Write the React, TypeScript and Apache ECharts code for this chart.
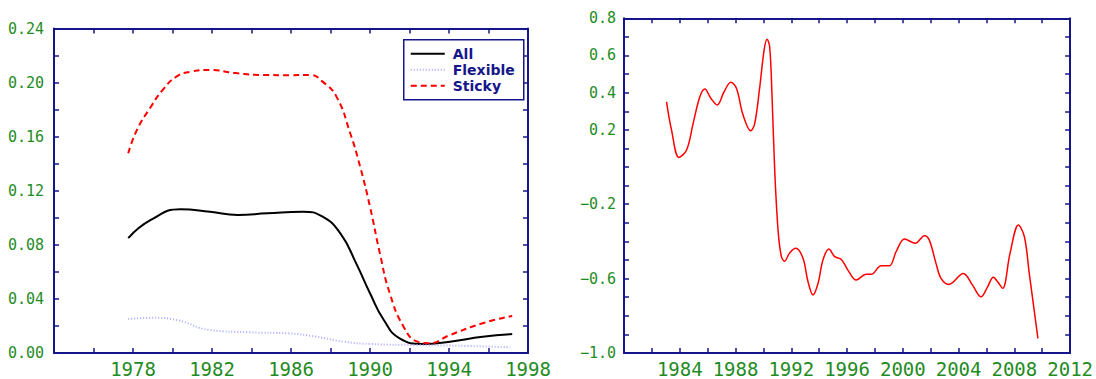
import React, { useEffect, useRef } from "react";
import * as echarts from "echarts";

// ---- data ----
const allPoints: [number, number][] = [
  [1977.76, 0.085], [1978.9, 0.0984], [1980.4, 0.1063], [1981.9, 0.1045],
  [1983.3, 0.1021], [1984.8, 0.1033], [1986.6, 0.1045], [1987.6, 0.1008],
  [1988.5, 0.0885], [1989.3, 0.0663], [1990.0, 0.0442], [1990.7, 0.0244],
  [1991.5, 0.0109], [1992.7, 0.0067], [1994.05, 0.0084], [1995.7, 0.012],
  [1997.2, 0.014],
];
const flexiblePoints: [number, number][] = [
  [1977.76, 0.0251], [1979.0, 0.026], [1980.2, 0.0244], [1981.9, 0.017],
  [1983.9, 0.0153], [1985.9, 0.0145], [1987.3, 0.012], [1988.65, 0.0084],
  [1990.0, 0.0067], [1992.4, 0.0059], [1994.9, 0.0052], [1997.1, 0.0042],
];
const stickyPoints: [number, number][] = [
  [1977.76, 0.1477], [1978.2, 0.165], [1978.9, 0.182], [1979.5, 0.1945],
  [1980.2, 0.2044], [1980.9, 0.208], [1981.9, 0.2093], [1983.2, 0.207],
  [1984.6, 0.2056], [1986.0, 0.2055], [1987.0, 0.2056], [1987.6, 0.2007],
  [1988.3, 0.1896], [1989.0, 0.1625], [1989.5, 0.1378], [1990.0, 0.1082],
  [1990.5, 0.0737], [1991.0, 0.0442], [1991.7, 0.0195], [1992.4, 0.0084],
  [1993.0, 0.0072], [1994.05, 0.0133], [1995.7, 0.022], [1997.2, 0.0274],
];
const gapPoints: [number, number][] = [
  [1983.05, 0.351], [1983.41, 0.199], [1983.94, 0.052], [1984.49, 0.092],
  [1984.96, 0.235], [1985.44, 0.378], [1985.8, 0.42], [1986.23, 0.37],
  [1986.68, 0.334], [1987.18, 0.405], [1987.66, 0.456], [1988.07, 0.423],
  [1988.54, 0.28], [1989.09, 0.195], [1989.38, 0.235], [1989.74, 0.432],
  [1990.05, 0.629], [1990.26, 0.687], [1990.45, 0.647], [1990.62, 0.378],
  [1990.81, -0.016], [1991.05, -0.339], [1991.29, -0.482], [1991.52, -0.506],
  [1991.88, -0.462], [1992.32, -0.437], [1992.84, -0.491], [1993.2, -0.617],
  [1993.56, -0.688], [1993.92, -0.625], [1994.27, -0.5], [1994.7, -0.441],
  [1995.11, -0.482], [1995.59, -0.497], [1996.06, -0.554], [1996.66, -0.608],
  [1997.37, -0.577], [1997.73, -0.577], [1998.45, -0.531], [1999.04, -0.531],
  [1999.52, -0.455], [2000.12, -0.387], [2000.9, -0.41], [2001.55, -0.369],
  [2001.9, -0.393], [2002.38, -0.518], [2002.74, -0.599], [2003.3, -0.631],
  [2004.34, -0.572], [2005.0, -0.635], [2005.61, -0.698], [2006.08, -0.644],
  [2006.49, -0.593], [2006.8, -0.617], [2007.16, -0.652], [2007.69, -0.464],
  [2008.29, -0.312], [2008.72, -0.375], [2009.07, -0.572], [2009.69, -0.921],
];
const legendNames = ["All", "Flexible", "Sticky"];
const rightYLabelTenths = [8, 6, 4, 2, -2, -6, -10];

const NAVY = "#16168a";
const GREEN = "#1f8c1f";
const LABEL_FONT = "'DejaVu Sans Mono', monospace";

const axisLine = { show: true, onZero: false, lineStyle: { color: NAVY, width: 2 } };
const axisTick = { show: true, inside: true, length: 5, lineStyle: { color: NAVY, width: 1.5 } };

function xAxes(gridIndex: number, min: number, max: number, firstLabel: number) {
  return [
    {
      type: "value", gridIndex, position: "bottom", min, max, interval: 2,
      axisLine, axisTick, splitLine: { show: false },
      axisLabel: {
        show: true, color: GREEN, fontFamily: LABEL_FONT, fontSize: 19, margin: 6,
        formatter: (v: number) => (v >= firstLabel && Math.round(v - firstLabel) % 4 === 0 ? String(Math.round(v)) : ""),
      },
    },
    {
      type: "value", gridIndex, position: "top", min, max, interval: 2,
      axisLine, axisTick, splitLine: { show: false }, axisLabel: { show: false },
    },
  ];
}

export default function App() {
  const ref = useRef<HTMLDivElement>(null);
  useEffect(() => {
    document.body.style.margin = "0";
    const chart = echarts.init(ref.current!, null, { renderer: "svg" });
    const option: any = {
      animation: false,
      backgroundColor: "#ffffff",
      grid: [
        { left: 54, top: 28.5, width: 474, height: 324.5 },
        { left: 624, top: 18.3, width: 447.5, height: 334.7 },
      ],
      xAxis: [...xAxes(0, 1974, 1998, 1978), ...xAxes(1, 1980, 2012, 1984)],
      yAxis: [
        {
          type: "value", gridIndex: 0, position: "left", min: 0, max: 0.24, interval: 0.02,
          axisLine, axisTick, splitLine: { show: false },
          axisLabel: {
            color: GREEN, fontFamily: LABEL_FONT, fontSize: 15, margin: 10,
            formatter: (v: number) => (Math.round(v * 100) % 4 === 0 ? v.toFixed(2) : ""),
          },
        },
        {
          type: "value", gridIndex: 0, position: "right", min: 0, max: 0.24, interval: 0.02,
          axisLine, axisTick, splitLine: { show: false }, axisLabel: { show: false },
        },
        {
          type: "value", gridIndex: 1, position: "left", min: -1, max: 0.8, interval: 0.1,
          axisLine, axisTick, splitLine: { show: false },
          axisLabel: {
            color: GREEN, fontFamily: LABEL_FONT, fontSize: 15, margin: 8,
            formatter: (v: number) => {
              const k = Math.round(v * 10);
              if (!rightYLabelTenths.includes(k)) return "";
              return (k < 0 ? "\u2212" : "") + (Math.abs(k) / 10).toFixed(1);
            },
          },
        },
        {
          type: "value", gridIndex: 1, position: "right", min: -1, max: 0.8, interval: 0.1,
          axisLine, axisTick, splitLine: { show: false }, axisLabel: { show: false },
        },
      ],
      series: [
        {
          name: legendNames[0], type: "line", xAxisIndex: 0, yAxisIndex: 0, data: allPoints,
          smooth: 0.5, showSymbol: false, lineStyle: { color: "#000000", width: 2 },
        },
        {
          name: legendNames[1], type: "line", xAxisIndex: 0, yAxisIndex: 0, data: flexiblePoints,
          smooth: 0.5, showSymbol: false, lineStyle: { color: "#aaaaff", width: 2, type: [1, 2] },
        },
        {
          name: legendNames[2], type: "line", xAxisIndex: 0, yAxisIndex: 0, data: stickyPoints,
          smooth: 0.5, showSymbol: false, lineStyle: { color: "#ff0000", width: 2, type: [6, 4] },
        },
        {
          name: "gap", type: "line", xAxisIndex: 2, yAxisIndex: 2, data: gapPoints,
          smooth: 0.35, showSymbol: false, lineStyle: { color: "#ff0000", width: 1.5 },
        },
      ],
      graphic: [
        {
          type: "group", left: 403, top: 39,
          children: [
            { type: "rect", shape: { x: 0, y: 0, width: 120, height: 60 }, style: { fill: "#ffffff", stroke: NAVY, lineWidth: 1.5 } },
            { type: "line", shape: { x1: 7, y1: 14, x2: 41, y2: 14 }, style: { stroke: "#000000", lineWidth: 2 } },
            { type: "line", shape: { x1: 7, y1: 30, x2: 41, y2: 30 }, style: { stroke: "#aaaaff", lineWidth: 2, lineDash: [1, 2] } },
            { type: "line", shape: { x1: 7, y1: 46, x2: 41, y2: 46 }, style: { stroke: "#ff0000", lineWidth: 2, lineDash: [6, 4] } },
            ...legendNames.map((n, i) => ({
              type: "text", x: 49, y: 14 + 16 * i,
              style: { text: n, fill: NAVY, font: "bold 14px 'DejaVu Sans'", textVerticalAlign: "middle", verticalAlign: "middle" },
            })),
          ],
        },
      ],
    };
    chart.setOption(option);
    return () => chart.dispose();
  }, []);
  return <div ref={ref} style={{ width: 1096, height: 379 }} />;
}
